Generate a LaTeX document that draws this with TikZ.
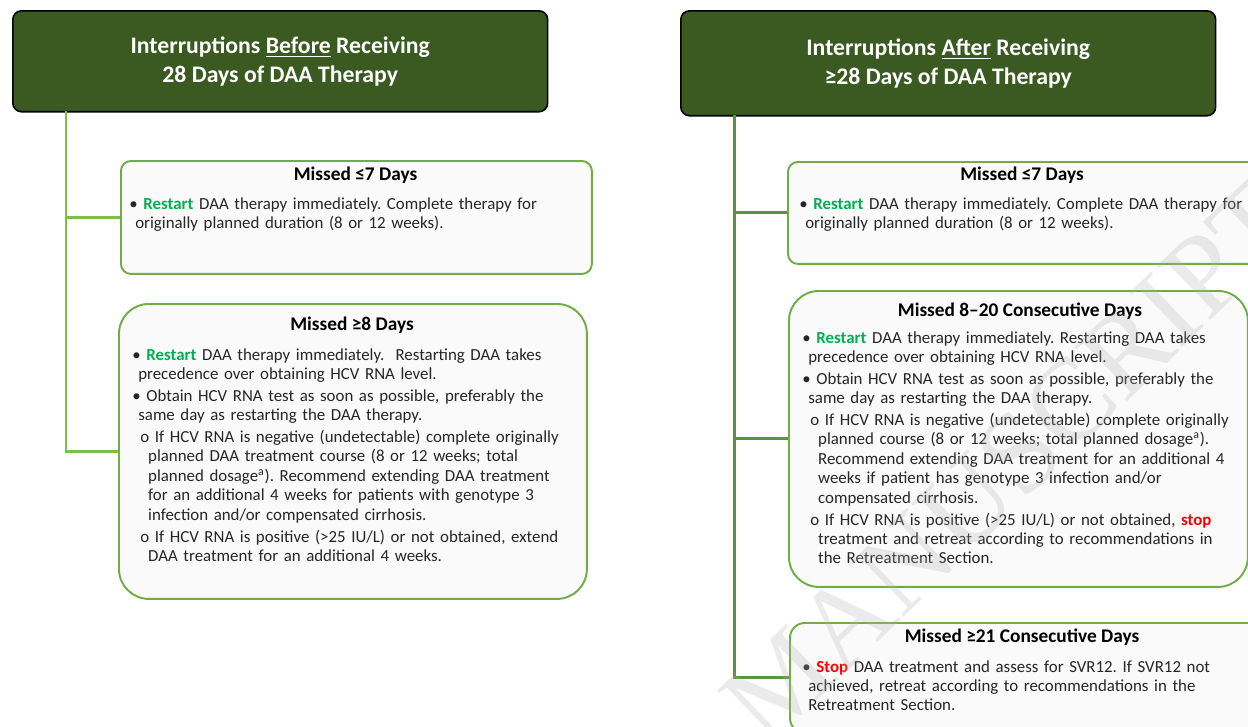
\documentclass[tikz,border=0pt]{standalone}
\usepackage{fontspec}
\setmainfont{Carlito}
\newfontfamily\wmfont{Liberation Serif}
\usepackage{xcolor}
\usepackage{tikz}
\usetikzlibrary{positioning}
\definecolor{hdrgreen}{HTML}{3A5A22}
\definecolor{trunkl}{HTML}{7CBF4A}
\definecolor{trunkr}{HTML}{5A9440}
\definecolor{boxgreen}{HTML}{70AD47}
\definecolor{boxfill}{HTML}{FAFAFA}
\definecolor{okgreen}{HTML}{00B050}
\definecolor{stopred}{HTML}{FF0000}
\definecolor{bodytxt}{HTML}{262626}
\newcommand{\bfst}{\hangindent=3.4pt\hangafter=1\noindent\textbullet\ }
\newcommand{\bpt}{\par\addvspace{1.4pt}\bfst}
\newcommand{\spt}{\par\addvspace{1.4pt}\hangindent=9pt\hangafter=1\noindent\hspace*{4.5pt}o\ }
\newcommand{\go}[1]{\textcolor{okgreen}{\textbf{#1}}}
\newcommand{\halt}[1]{\textcolor{stopred}{\textbf{#1}}}
\tikzset{
    hdr/.style = {rectangle, rounded corners=5pt, draw=black, line width=0.9pt, fill=hdrgreen, text=white, align=center, anchor=north west, inner sep=0pt, font=\fontsize{13.5}{16.4}\selectfont\bfseries},
    mbox/.style = {rectangle, draw=boxgreen, line width=1.1pt, fill=boxfill, anchor=north west, inner sep=0pt},
    mtitle/.style = {anchor=base, inner sep=0pt, font=\fontsize{11}{12}\selectfont\bfseries},
    mtext/.style = {anchor=base west, inner sep=0pt, text width=9.2cm, align=left, text=bodytxt, font=\fontsize{9.6}{11.05}\selectfont\frenchspacing},
    trunkL/.style = {trunkl, line width=1.7pt},
    trunkR/.style = {trunkr, line width=1.7pt},
}
\begin{document}
\begin{tikzpicture}[x=0.02cm, y=-0.02cm]
\clip (0,0) rectangle (1248,727);
\fill[white] (0,0) rectangle (1248,727);
% headers
\node[hdr, minimum width=10.7cm, minimum height=2.02cm] at (12,10) (hl)
    {Interruptions \underline{Before} Receiving\\28 Days of DAA Therapy};
\node[hdr, minimum width=10.7cm, minimum height=2.1cm] at (680,10) (hr)
    {Interruptions \underline{After} Receiving\\≥28 Days of DAA Therapy};
%
\coordinate (tl) at (66,111);
\coordinate (tr) at (734,115);
%
\node[mbox, rounded corners=5.7pt, minimum width=9.42cm, minimum height=2.26cm] at (120,160) (l1) {};
\node[mbox, rounded corners=17pt, minimum width=9.36cm, minimum height=5.9cm] at (118,303) (l2) {};
\node[mbox, rounded corners=5.7pt, minimum width=9.8cm, minimum height=2.04cm] at (787,161) (r1) {};
\node[mbox, rounded corners=17pt, minimum width=9.18cm, minimum height=5.92cm] at (788,290) (r2) {};
\node[mbox, rounded corners=8.5pt, minimum width=9.8cm, minimum height=2.2cm] at (789,622) (r3) {};
%
\draw[trunkL] (tl) |- (l1.west);
\draw[trunkL] (tl) |- (l2.west);
\draw[trunkR] (tr) |- (r1.west);
\draw[trunkR] (tr) |- (r2.west);
\draw[trunkR] (tr) |- (r3.west);
%
\node[mtitle] at (355.5,180) (l1t) {Missed ≤7 Days};
\node[mtext] at (129,209) (l1x) {%
\bfst\go{Restart} DAA therapy immediately. Complete\ therapy for\newline
originally planned duration (8 or 12 weeks).\par};
%
\node[mtitle] at (352,330) (l2t) {Missed ≥8 Days};
\node[mtext] at (132,360) (l2x) {%
\bfst\go{Restart} DAA therapy immediately.\ \ Restarting DAA takes\newline
precedence over obtaining HCV RNA level.
\bpt Obtain HCV RNA test as soon as possible, preferably the\newline
same day as restarting the DAA therapy.
\spt If HCV RNA is negative (undetectable) complete originally\newline
planned DAA treatment course (8 or 12 weeks; total\newline
planned dosage\textsuperscript{a}). Recommend extending DAA treatment\newline
for an additional 4 weeks for patients with genotype 3\newline
infection and/or compensated cirrhosis.
\spt If HCV RNA is positive (>25 IU/L) or not obtained, extend\newline
DAA treatment\ for an additional 4 weeks.\par};
%
\node[mtitle] at (1022,180) (r1t) {Missed ≤7 Days};
\node[mtext] at (799,209) (r1x) {%
\bfst\go{Restart} DAA therapy immediately. Complete\ DAA therapy for\newline
originally planned duration (8 or 12 weeks).\par};
%
\node[mtitle] at (1020,316) (r2t) {Missed 8–20 Consecutive Days};
\node[mtext] at (802,343) (r2x) {%
\bfst\go{Restart} DAA therapy immediately. Restarting DAA takes\newline
precedence over obtaining HCV RNA level.
\bpt Obtain HCV RNA test as soon as possible, preferably the\newline
same day as restarting the DAA therapy.
\spt If HCV RNA is negative (undetectable) complete originally\newline
planned course (8 or 12 weeks; total planned dosage\textsuperscript{a}).\newline
Recommend extending DAA treatment for an additional 4\newline
weeks if patient has genotype 3 infection and/or\newline
compensated cirrhosis.
\spt If HCV RNA is positive (>25 IU/L) or not obtained, \halt{stop}\newline
treatment and retreat according to recommendations in\newline
the Retreatment Section.\par};
%
\node[mtitle] at (1022,642) (r3t) {Missed ≥21 Consecutive Days};
\node[mtext] at (802,672) (r3x) {%
\bfst\halt{Stop} DAA treatment and assess for SVR12. If SVR12 not\newline
achieved, retreat according to recommendations in the\newline
Retreatment Section.\par};
%
\node[rotate=44, text=black!30, opacity=0.25, font=\wmfont\fontsize{66}{66}\selectfont] at (1010,462) (wm) {MANUSCRIPT};
\end{tikzpicture}
\end{document}
